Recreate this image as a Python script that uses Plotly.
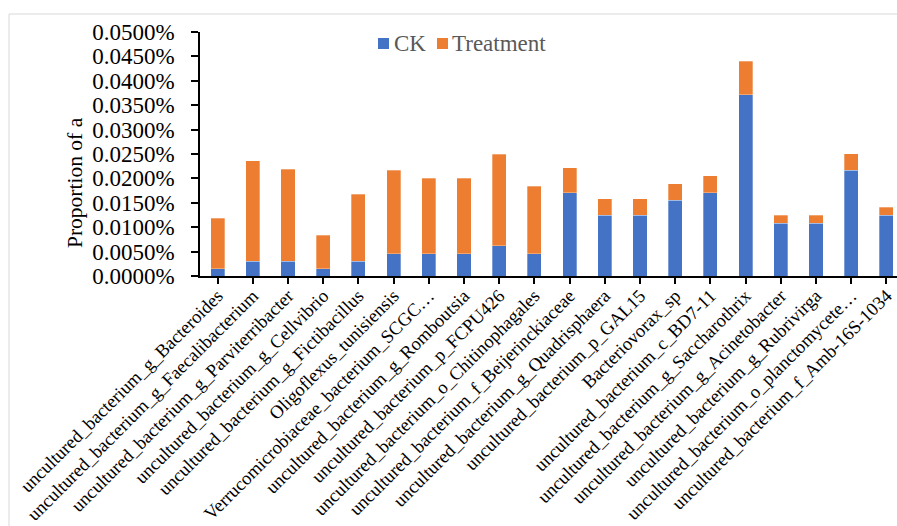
import plotly.graph_objects as go

# Taxa shown on the category axis
taxa = [
    "uncultured_bacterium_g_Bacteroides",
    "uncultured_bacterium_g_Faecalibacterium",
    "uncultured_bacterium_g_Parviterribacter",
    "uncultured_bacterium_g_Cellvibrio",
    "uncultured_bacterium_g_Fictibacillus",
    "Oligoflexus_tunisiensis",
    "Verrucomicrobiaceae_bacterium_SCGC…",
    "uncultured_bacterium_g_Romboutsia",
    "uncultured_bacterium_p_FCPU426",
    "uncultured_bacterium_o_Chitinophagales",
    "uncultured_bacterium_f_Beijerinckiaceae",
    "uncultured_bacterium_g_Quadrisphaera",
    "uncultured_bacterium_p_GAL15",
    "Bacteriovorax_sp",
    "uncultured_bacterium_c_BD7-11",
    "uncultured_bacterium_g_Saccharothrix",
    "uncultured_bacterium_g_Acinetobacter",
    "uncultured_bacterium_g_Rubrivirga",
    "uncultured_bacterium_o_planctomycete…",
    "uncultured_bacterium_f_Amb-16S-1034",
]

# Relative abundance (%) per group, stacked
ck = [0.0015, 0.0030, 0.0030, 0.0015, 0.0030, 0.0046, 0.0046, 0.0046, 0.0062, 0.0046,
      0.0171, 0.0124, 0.0124, 0.0155, 0.0171, 0.0371, 0.0108, 0.0108, 0.0217, 0.0124]
treatment = [0.0103, 0.0206, 0.0189, 0.0069, 0.0138, 0.0171, 0.0154, 0.0154, 0.0188, 0.0138,
             0.0051, 0.0034, 0.0034, 0.0034, 0.0034, 0.0069, 0.0017, 0.0017, 0.0034, 0.0017]

series_names = ["CK", "Treatment"]
series_colors = ["#4472C4", "#ED7D31"]

y_ticks = [i * 0.005 for i in range(11)]

SERIF = "Liberation Serif, Times New Roman, serif"

fig = go.Figure()
for name, vals, color in zip(series_names, [ck, treatment], series_colors):
    fig.add_trace(go.Bar(
        x=list(range(len(taxa))), y=vals, name=name,
        marker=dict(color=color, line=dict(color="rgba(255,255,255,0.6)", width=0.5)),
        showlegend=False,
    ))

L, T, W, H = 200, 32, 897, 526
PW = W - L
PH = 276 - T


def px_x(p):
    return (p - L) / PW


def px_y(p):
    return (276 - p) / PH


# Compact key: coloured square followed closely by the series name
key_items = [(378, 394), (437, 452)]
shapes = [dict(
    type="rect", xref="paper", yref="paper",
    x0=px_x(9), x1=px_x(905), y0=px_y(540), y1=px_y(14),
    line=dict(color="#D9D9D9", width=1), fillcolor="rgba(0,0,0,0)", layer="below",
)]
annotations = [dict(
    text="Proportion of a", textangle=-90,
    xref="paper", yref="paper", x=px_x(75), y=px_y(182),
    xanchor="center", yanchor="middle", showarrow=False,
    font=dict(size=21.5, family=SERIF, color="black"),
)]
for (sx, tx), name, color in zip(key_items, series_names, series_colors):
    shapes.append(dict(
        type="rect", xref="paper", yref="paper",
        x0=px_x(sx), x1=px_x(sx + 11), y0=px_y(49), y1=px_y(38),
        line=dict(width=0), fillcolor=color,
    ))
    annotations.append(dict(
        text=name, xref="paper", yref="paper", x=px_x(tx - 2), y=px_y(43),
        xanchor="left", yanchor="middle", showarrow=False,
        font=dict(size=23, family=SERIF, color="#595959"),
    ))

fig.update_layout(
    width=W, height=H,
    margin=dict(l=L, r=0, t=T, b=H - 276),
    barmode="stack",
    bargap=0.6,
    plot_bgcolor="white",
    paper_bgcolor="white",
    font=dict(family=SERIF, color="black"),
    xaxis=dict(
        automargin=False,
        range=[-0.5, 19.3],
        tickmode="array",
        tickvals=list(range(len(taxa))),
        ticktext=taxa,
        tickangle=-45,
        tickfont=dict(size=18.5, family=SERIF, color="black"),
        ticks="outside", ticklen=6, tickcolor="black", tickwidth=1.5,
        tickson="boundaries",
        ticklabelstandoff=-6,
        showline=True, linecolor="black", linewidth=1.5,
        showgrid=False, zeroline=False,
    ),
    yaxis=dict(
        automargin=False,
        range=[0, 0.05],
        tickmode="array",
        tickvals=y_ticks,
        ticktext=[f"{v:.4f}%" for v in y_ticks],
        tickfont=dict(size=23, family=SERIF, color="black"),
        ticks="outside", ticklen=7, tickcolor="black", tickwidth=1.5,
        ticklabelstandoff=12,
        showline=True, linecolor="black", linewidth=1.5,
        showgrid=False, zeroline=False,
    ),
    annotations=annotations,
    shapes=shapes,
)

fig.write_html("out.html")
